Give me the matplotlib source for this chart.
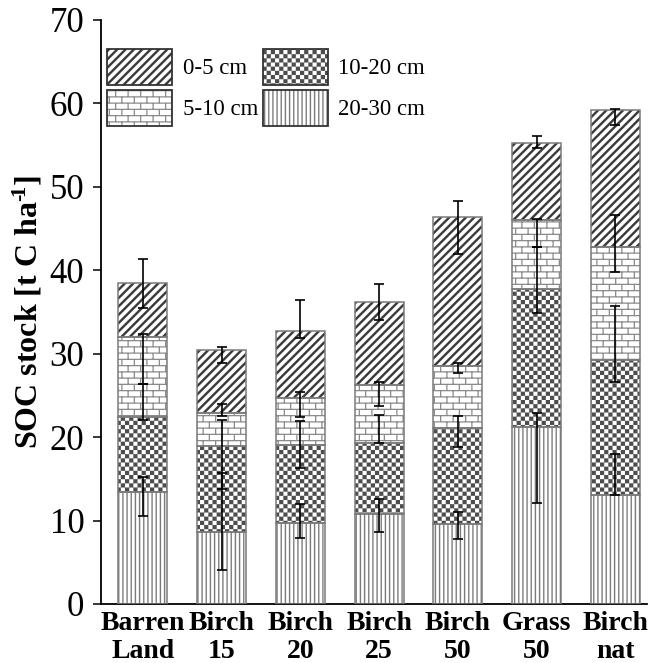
import warnings
import numpy as np
import matplotlib
matplotlib.use("Agg")
import matplotlib.pyplot as plt
from matplotlib import hatch as mhatch
from matplotlib.path import Path
from matplotlib.patches import Patch

warnings.filterwarnings("ignore")

# ---------------------------------------------------------------- data
sites = ["Barren\nLand", "Birch\n15", "Birch\n20", "Birch\n25",
         "Birch\n50", "Grass\n50", "Birch\nnat"]

# SOC stock per depth layer [t C ha-1], stacked bottom (20-30 cm) to top (0-5 cm)
soc_20_30 = [13.46, 8.67, 9.70, 10.80, 9.55, 21.18, 13.06]
soc_10_20 = [8.91, 10.28, 9.30, 8.55, 11.51, 16.58, 16.19]
soc_5_10 = [9.59, 3.90, 5.73, 6.90, 7.47, 8.27, 13.58]
soc_0_5 = [6.48, 7.55, 8.01, 10.00, 17.82, 9.19, 16.38]

# error bar extents below / above each layer's stacked top
err_lo_20_30 = [2.87, 4.59, 1.75, 2.21, 1.76, 9.04, 0.00]
err_hi_20_30 = [1.73, 7.00, 2.29, 1.75, 1.44, 1.68, 4.90]
err_lo_10_20 = [0.32, 5.21, 2.74, 0.09, 2.28, 2.92, 2.60]
err_hi_10_20 = [4.00, 3.10, 2.97, 3.30, 1.51, 5.07, 6.51]
err_lo_5_10 = [5.59, 0.32, 2.28, 2.55, 0.88, 3.20, 3.08]
err_hi_5_10 = [0.40, 1.12, 0.72, 0.40, 0.40, 0.12, 3.80]
err_lo_0_5 = [3.00, 1.55, 0.80, 2.15, 4.40, 0.60, 1.80]
err_hi_0_5 = [2.87, 0.37, 3.70, 2.05, 1.95, 0.91, 0.12]

layer_labels = ["20-30 cm", "10-20 cm", "5-10 cm", "0-5 cm"]
y_ticks = [0, 10, 20, 30, 40, 50, 60, 70]


# ---------------------------------------------------------------- hatches
# Filled-geometry hatch patterns (unit tile, repeated by the renderer).
def _rect(x0, y0, x1, y1):
    return [(x0, y0), (x1, y0), (x1, y1), (x0, y1), (x0, y0)]


class _PolyHatch(mhatch.HatchPatternBase):
    char = None

    def __init__(self, hatch, density):
        self.polys = self.make_polys() if (hatch and self.char in hatch) else []
        self.num_vertices = 5 * len(self.polys)

    def set_vertices_and_codes(self, vertices, codes):
        for i, poly in enumerate(self.polys):
            vertices[5 * i:5 * i + 5] = poly
            codes[5 * i] = Path.MOVETO
            codes[5 * i + 1:5 * i + 4] = Path.LINETO
            codes[5 * i + 4] = Path.CLOSEPOLY


class DiagonalHatch(_PolyHatch):
    char = "d"

    def make_polys(self):
        n, h = 12, 0.0165
        polys = []
        for k in range(-n, n + 1):
            c = k / n
            polys.append([(-0.05, -0.05 + c - h), (1.05, 1.05 + c - h),
                          (1.05, 1.05 + c + h), (-0.05, -0.05 + c + h),
                          (-0.05, -0.05 + c - h)])
        return polys


class VerticalHatch(_PolyHatch):
    char = "v"

    def make_polys(self):
        n, t = 24, 0.0065
        return [_rect((k + 0.5) / n - t, -0.05, (k + 0.5) / n + t, 1.05)
                for k in range(n)]


class BrickHatch(_PolyHatch):
    char = "b"

    def make_polys(self):
        rows, cols, t = 16, 8, 0.006
        polys = []
        for k in range(rows):
            y = (k + 0.5) / rows
            polys.append(_rect(-0.05, y - t, 1.05, y + t))
        for k in range(-1, rows):
            y0 = (k + 0.5) / rows
            y1 = y0 + 1 / rows
            for j in range(-1, cols + 1):
                x = (j + 0.25 + 0.5 * (k % 2)) / cols
                polys.append(_rect(x - t, y0, x + t, y1))
        return polys


class CheckerHatch(_PolyHatch):
    char = "c"

    def make_polys(self):
        n = 24
        s = 1 / n
        return [_rect(i * s, j * s, (i + 1) * s, (j + 1) * s)
                for i in range(n) for j in range(n) if (i + j) % 2 == 0]


mhatch._hatch_types.extend([DiagonalHatch, VerticalHatch, BrickHatch, CheckerHatch])

# ---------------------------------------------------------------- style
plt.rcParams["font.family"] = ["Liberation Serif", "DejaVu Serif"]
plt.rcParams["mathtext.fontset"] = "custom"
plt.rcParams["mathtext.rm"] = "Liberation Serif:bold"
plt.rcParams["mathtext.bf"] = "Liberation Serif:bold"
plt.rcParams["mathtext.default"] = "bf"
plt.rcParams["hatch.linewidth"] = 0.05

layers = [soc_20_30, soc_10_20, soc_5_10, soc_0_5]
err_lo = [err_lo_20_30, err_lo_10_20, err_lo_5_10, err_lo_0_5]
err_hi = [err_hi_20_30, err_hi_10_20, err_hi_5_10, err_hi_0_5]
hatches = ["v", "c", "b", "d"]
hatch_colors = ["#7a7a7a", "#4d4d4d", "#8a8a8a", "#3a3a3a"]
outline = "#7a7a7a"

fig = plt.figure(figsize=(6.49, 6.63), dpi=100)
ax = fig.add_axes([101 / 649, 1 - 604 / 663, (647 - 101) / 649, (604 - 20) / 663])

x = np.arange(len(sites))
width = 0.623
bottom = np.zeros(len(sites))
tops = []
for vals, hp, hc in zip(layers, hatches, hatch_colors):
    vals = np.asarray(vals)
    ax.bar(x, vals, width, bottom=bottom, color="white", edgecolor=hc,
           hatch=hp, linewidth=0, zorder=2)
    ax.bar(x, vals, width, bottom=bottom, fill=False, edgecolor=outline,
           linewidth=1.1, zorder=3)
    bottom = bottom + vals
    tops.append(bottom.copy())

for top, lo, hi in zip(tops, err_lo, err_hi):
    ax.errorbar(x, top, yerr=[lo, hi], fmt="none", ecolor="black",
                elinewidth=1.2, capsize=3.5, capthick=1.2, zorder=5)

ax.set_xlim(-0.53, 6.40)
ax.set_ylim(0, 70)
ax.set_yticks(y_ticks)
ax.set_xticks(x)
ax.set_xticklabels(sites, fontsize=20, fontweight="bold", linespacing=1.15)
ax.tick_params(axis="x", length=0, pad=5)
ax.tick_params(axis="y", direction="out", length=6, width=1.1, labelsize=25, pad=6)
for side in ("top", "right"):
    ax.spines[side].set_visible(False)
for side in ("left", "bottom"):
    ax.spines[side].set_linewidth(1.3)

ax.set_ylabel("SOC stock [t C ha$^{\u2010\\!1}$]", fontsize=23,
              fontweight="bold", labelpad=4)

handles = [Patch(facecolor="white", edgecolor="#333333", hatch=hp, linewidth=1.3)
           for hp in hatches]
for h, hc in zip(handles, hatch_colors):
    h._hatch_color = matplotlib.colors.to_rgba(hc)
order = [3, 2, 1, 0]
ax.legend([handles[i] for i in order], [layer_labels[i] for i in order],
          ncol=2, loc="upper left", bbox_to_anchor=(107 / 649, 1 - 49 / 663),
          bbox_transform=fig.transFigure, frameon=False, fontsize=16.5,
          borderpad=0, borderaxespad=0, handlelength=2.85, handleheight=2.04,
          handletextpad=0.45, labelspacing=0.22, columnspacing=0.2)

fig.savefig("out.png", dpi=100)
